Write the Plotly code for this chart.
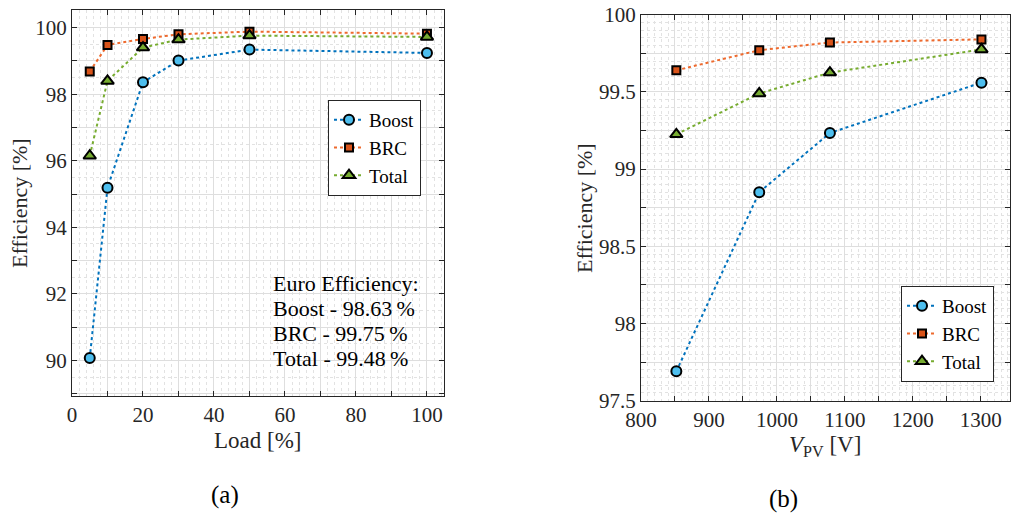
import plotly.graph_objects as go

W, H = 1011, 520

# ---- data (a) ----
load = [5, 10, 20, 30, 50, 100]
boost_a = [90.07, 95.19, 98.36, 99.01, 99.34, 99.24]
brc_a = [98.68, 99.48, 99.66, 99.80, 99.88, 99.82]
total_a = [96.15, 98.40, 99.40, 99.64, 99.76, 99.72]

# ---- data (b) ----
vpv = [852, 974, 1078, 1301]
boost_b = [97.69, 98.85, 99.234, 99.56]
brc_b = [99.64, 99.77, 99.82, 99.84]
total_b = [99.225, 99.49, 99.625, 99.775]

euro_lines = ["Euro Efficiency:", "Boost - 98.63\u2009%", "BRC - 99.75\u2009%", "Total - 99.48\u2009%"]

FONT = "Liberation Serif, Times New Roman, DejaVu Serif, serif"
TXT = "#262626"

series = [
    ("Boost", "circle", "#4DBEEE", "#0072BD", 10),
    ("BRC", "square", "#D95319", "#EE6A2E", 8),
    ("Total", "triangle-up", "#77AC30", "#77AC30", 11),
]

fig = go.Figure()
for (name, sym, fill, lc, ms), ya, yb in zip(series, [boost_a, brc_a, total_a], [boost_b, brc_b, total_b]):
    fig.add_trace(go.Scatter(x=load, y=ya, name=name, mode="lines+markers", xaxis="x", yaxis="y",
                             line=dict(color=lc, width=2, dash="dot"),
                             marker=dict(symbol=sym, size=ms, color=fill, line=dict(color="black", width=2)),
                             legend="legend"))
    fig.add_trace(go.Scatter(x=vpv, y=yb, name=name, mode="lines+markers", xaxis="x2", yaxis="y2",
                             line=dict(color=lc, width=2, dash="dot"),
                             marker=dict(symbol=sym, size=ms, color=fill, line=dict(color="black", width=2)),
                             legend="legend2"))

def px(x): return x / W
def py(y): return 1 - y / H

def axis(domain, rng, tickvals, labels, minor_dtick, minor_tick0, anchor):
    return dict(domain=domain, range=rng, tickmode="array", tickvals=tickvals,
                ticktext=labels, ticks="inside", ticklen=5, tickcolor=TXT,
                showline=True, linecolor=TXT, linewidth=1, mirror="ticks",
                showgrid=True, gridcolor="#DEDEDE", gridwidth=1, zeroline=False,
                automargin=False, ticklabeloverflow="allow",
                tickfont=dict(family=FONT, size=21, color=TXT), anchor=anchor,
                minor=dict(dtick=minor_dtick, tick0=minor_tick0, showgrid=True, griddash="dot",
                           gridcolor="#E2E2E2", gridwidth=1, ticks=""))

xa_vals = list(range(0, 101, 10))
xa_txt = [str(v) if v % 20 == 0 else "" for v in xa_vals]
ya_vals = list(range(89, 101))
ya_txt = [str(v) if v % 2 == 0 else "" for v in ya_vals]
xb_vals = list(range(800, 1301, 50))
xb_txt = [str(v) if v % 100 == 0 else "" for v in xb_vals]
yb_vals = [97.5 + 0.25 * i for i in range(11)]
yb_txt = [("%g" % v) if abs(v * 2 - round(v * 2)) < 1e-9 else "" for v in yb_vals]

fig.update_layout(
    width=W, height=H, margin=dict(l=0, r=0, t=0, b=0, pad=0, autoexpand=False),
    paper_bgcolor="white", plot_bgcolor="white",
    font=dict(family=FONT, color=TXT),
    xaxis=axis([px(72), px(444)], [0, 104.8], xa_vals, xa_txt, 2, 0, "y"),
    yaxis=axis([py(396), py(10)], [88.93, 100.53], ya_vals, ya_txt, 0.5, 0, "x"),
    xaxis2=axis([px(641), px(1010)], [800, 1343], xb_vals, xb_txt, 10, 800, "y2"),
    yaxis2=axis([py(400.7), py(14.7)], [97.5, 100], yb_vals, yb_txt, 0.05, 97.5, "x2"),
    legend=dict(x=px(421), y=py(100), xanchor="right", yanchor="top", bgcolor="white",
                bordercolor=TXT, borderwidth=1, font=dict(family=FONT, size=19, color="black"),
                tracegroupgap=0, itemwidth=30),
    legend2=dict(x=px(994), y=py(286), xanchor="right", yanchor="top", bgcolor="white",
                 bordercolor=TXT, borderwidth=1, font=dict(family=FONT, size=19, color="black"),
                 tracegroupgap=0, itemwidth=30),
)

ann = []
for i, t in enumerate(euro_lines):
    ann.append(dict(text=t, x=px(271), y=py(283 + 25.3 * i), xref="paper", yref="paper",
                    xanchor="left", yanchor="middle", showarrow=False,
                    font=dict(family=FONT, size=22, color="black")))
ann += [
    dict(text="Load [%]", x=px(258), y=py(440), xref="paper", yref="paper", showarrow=False,
         xanchor="center", yanchor="middle", font=dict(family=FONT, size=23, color=TXT)),
    dict(text="Efficiency [%]", x=px(20), y=py(203), xref="paper", yref="paper", showarrow=False,
         textangle=-90, xanchor="center", yanchor="middle", font=dict(family=FONT, size=22, color=TXT)),
    dict(text="Efficiency [%]", x=px(584), y=py(208), xref="paper", yref="paper", showarrow=False,
         textangle=-90, xanchor="center", yanchor="middle", font=dict(family=FONT, size=22, color=TXT)),
    dict(text="<i>V</i><sub>PV</sub> [V]", x=px(825), y=py(446), xref="paper", yref="paper", showarrow=False,
         xanchor="center", yanchor="middle", font=dict(family=FONT, size=23, color=TXT)),
    dict(text="(a)", x=px(225), y=py(495), xref="paper", yref="paper", showarrow=False,
         xanchor="center", yanchor="middle", font=dict(family=FONT, size=25, color="black")),
    dict(text="(b)", x=px(783), y=py(499), xref="paper", yref="paper", showarrow=False,
         xanchor="center", yanchor="middle", font=dict(family=FONT, size=25, color="black")),
]
fig.update_layout(annotations=ann)

# remove the browser's default 8px body margin so the figure sits at the page origin
fig.write_html("out.html", config={"displayModeBar": False},
               post_script="document.body.style.margin='0';")
